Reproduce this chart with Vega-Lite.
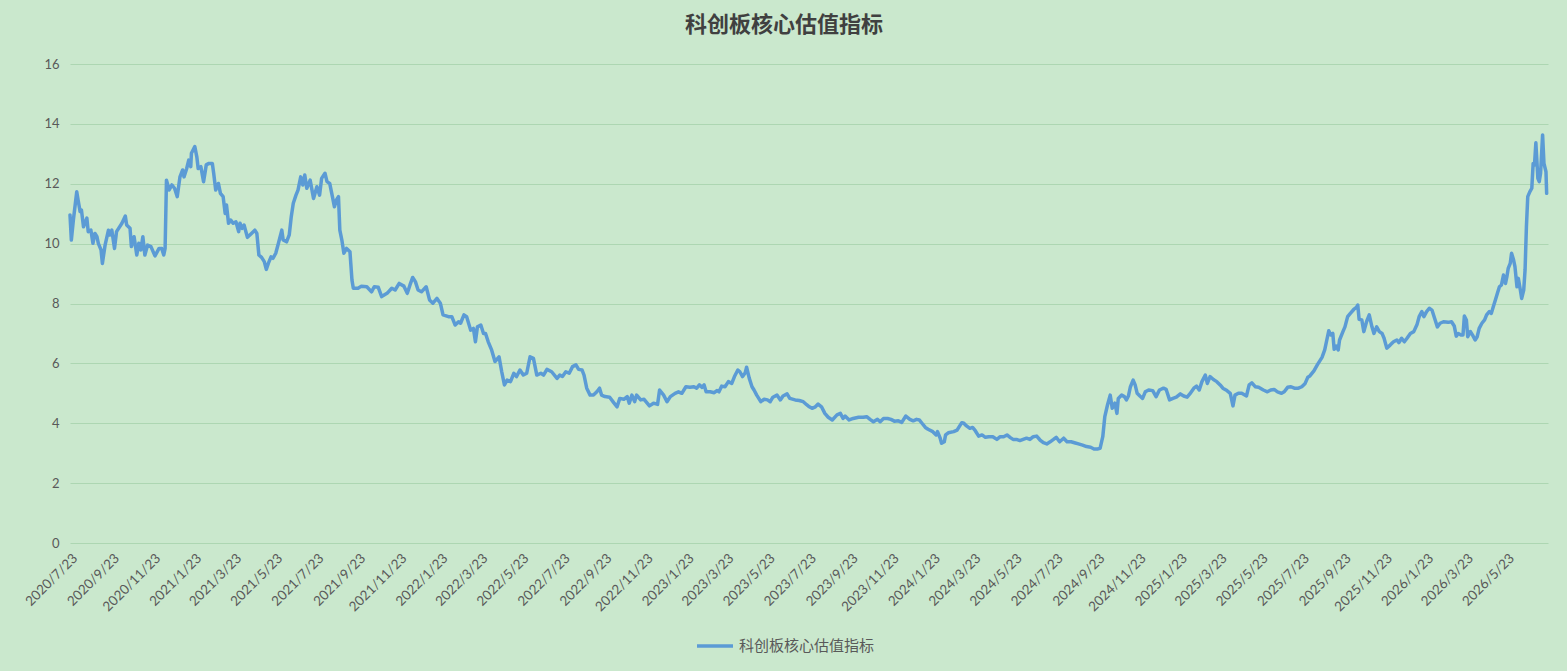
{
  "$schema": "https://vega.github.io/schema/vega-lite/v6.json",
  "autosize": "none",
  "width": 1478,
  "height": 479,
  "padding": {"left": 70, "top": 64, "right": 19, "bottom": 128},
  "background": "#CAE8CD",
  "title": {
    "text": "科创板核心估值指标",
    "font": "Noto Sans CJK SC",
    "fontSize": 22,
    "fontWeight": "bold",
    "color": "#404040",
    "anchor": "middle",
    "dx": -25,
    "offset": 21
  },
  "config": {
    "view": {"stroke": null},
    "axis": {
      "labelFont": "Lato",
      "labelColor": "#595959",
      "labelFontSize": 13,
      "domain": false,
      "ticks": false,
      "gridColor": "#ADD6B2",
      "gridWidth": 1
    }
  },
  "data": {
    "values": [
      {"date": "2020/7/23", "value": 10.96},
      {"date": "2020/7/25", "value": 10.12},
      {"date": "2020/7/28", "value": 10.79},
      {"date": "2020/8/2", "value": 11.73},
      {"date": "2020/8/4", "value": 11.46},
      {"date": "2020/8/7", "value": 11.07},
      {"date": "2020/8/9", "value": 11.12},
      {"date": "2020/8/12", "value": 10.56},
      {"date": "2020/8/17", "value": 10.85},
      {"date": "2020/8/19", "value": 10.40},
      {"date": "2020/8/23", "value": 10.45},
      {"date": "2020/8/26", "value": 10.01},
      {"date": "2020/8/29", "value": 10.34},
      {"date": "2020/9/1", "value": 10.23},
      {"date": "2020/9/3", "value": 10.01},
      {"date": "2020/9/7", "value": 9.79},
      {"date": "2020/9/9", "value": 9.34},
      {"date": "2020/9/13", "value": 9.95},
      {"date": "2020/9/18", "value": 10.45},
      {"date": "2020/9/20", "value": 10.29},
      {"date": "2020/9/23", "value": 10.45},
      {"date": "2020/9/27", "value": 9.84},
      {"date": "2020/9/30", "value": 10.40},
      {"date": "2020/10/8", "value": 10.68},
      {"date": "2020/10/13", "value": 10.92},
      {"date": "2020/10/15", "value": 10.62},
      {"date": "2020/10/20", "value": 10.51},
      {"date": "2020/10/22", "value": 9.90},
      {"date": "2020/10/26", "value": 10.23},
      {"date": "2020/10/30", "value": 9.62},
      {"date": "2020/11/2", "value": 10.01},
      {"date": "2020/11/5", "value": 9.79},
      {"date": "2020/11/8", "value": 10.23},
      {"date": "2020/11/11", "value": 9.62},
      {"date": "2020/11/15", "value": 9.95},
      {"date": "2020/11/20", "value": 9.90},
      {"date": "2020/11/26", "value": 9.59},
      {"date": "2020/12/2", "value": 9.84},
      {"date": "2020/12/6", "value": 9.84},
      {"date": "2020/12/9", "value": 9.62},
      {"date": "2020/12/11", "value": 9.84},
      {"date": "2020/12/13", "value": 12.12},
      {"date": "2020/12/17", "value": 11.79},
      {"date": "2020/12/21", "value": 11.96},
      {"date": "2020/12/25", "value": 11.85},
      {"date": "2020/12/29", "value": 11.57},
      {"date": "2021/1/2", "value": 12.23},
      {"date": "2021/1/6", "value": 12.46},
      {"date": "2021/1/8", "value": 12.23},
      {"date": "2021/1/12", "value": 12.51},
      {"date": "2021/1/15", "value": 12.79},
      {"date": "2021/1/18", "value": 12.57},
      {"date": "2021/1/19", "value": 13.02},
      {"date": "2021/1/24", "value": 13.24},
      {"date": "2021/1/27", "value": 12.90},
      {"date": "2021/1/29", "value": 12.51},
      {"date": "2021/2/2", "value": 12.57},
      {"date": "2021/2/6", "value": 12.07},
      {"date": "2021/2/10", "value": 12.63},
      {"date": "2021/2/14", "value": 12.68},
      {"date": "2021/2/19", "value": 12.68},
      {"date": "2021/2/21", "value": 12.35},
      {"date": "2021/2/24", "value": 11.79},
      {"date": "2021/2/28", "value": 12.01},
      {"date": "2021/3/3", "value": 11.68},
      {"date": "2021/3/7", "value": 11.57},
      {"date": "2021/3/10", "value": 11.01},
      {"date": "2021/3/12", "value": 11.29},
      {"date": "2021/3/15", "value": 10.68},
      {"date": "2021/3/18", "value": 10.79},
      {"date": "2021/3/22", "value": 10.68},
      {"date": "2021/3/26", "value": 10.73},
      {"date": "2021/3/30", "value": 10.40},
      {"date": "2021/4/1", "value": 10.68},
      {"date": "2021/4/4", "value": 10.51},
      {"date": "2021/4/7", "value": 10.62},
      {"date": "2021/4/12", "value": 10.21},
      {"date": "2021/4/18", "value": 10.34},
      {"date": "2021/4/23", "value": 10.45},
      {"date": "2021/4/26", "value": 10.34},
      {"date": "2021/4/29", "value": 9.62},
      {"date": "2021/5/3", "value": 9.54},
      {"date": "2021/5/7", "value": 9.40},
      {"date": "2021/5/10", "value": 9.14},
      {"date": "2021/5/13", "value": 9.34},
      {"date": "2021/5/17", "value": 9.56},
      {"date": "2021/5/20", "value": 9.51},
      {"date": "2021/5/24", "value": 9.68},
      {"date": "2021/5/28", "value": 10.01},
      {"date": "2021/6/2", "value": 10.45},
      {"date": "2021/6/4", "value": 10.12},
      {"date": "2021/6/9", "value": 10.06},
      {"date": "2021/6/13", "value": 10.29},
      {"date": "2021/6/16", "value": 10.90},
      {"date": "2021/6/19", "value": 11.35},
      {"date": "2021/6/23", "value": 11.62},
      {"date": "2021/6/26", "value": 11.79},
      {"date": "2021/6/30", "value": 12.23},
      {"date": "2021/7/3", "value": 11.96},
      {"date": "2021/7/6", "value": 12.29},
      {"date": "2021/7/9", "value": 11.85},
      {"date": "2021/7/14", "value": 12.12},
      {"date": "2021/7/19", "value": 11.51},
      {"date": "2021/7/24", "value": 11.90},
      {"date": "2021/7/28", "value": 11.62},
      {"date": "2021/7/31", "value": 12.18},
      {"date": "2021/8/5", "value": 12.35},
      {"date": "2021/8/8", "value": 12.07},
      {"date": "2021/8/12", "value": 12.01},
      {"date": "2021/8/16", "value": 11.57},
      {"date": "2021/8/19", "value": 11.23},
      {"date": "2021/8/22", "value": 11.46},
      {"date": "2021/8/25", "value": 11.57},
      {"date": "2021/8/27", "value": 10.45},
      {"date": "2021/8/30", "value": 10.12},
      {"date": "2021/9/2", "value": 9.68},
      {"date": "2021/9/6", "value": 9.84},
      {"date": "2021/9/11", "value": 9.73},
      {"date": "2021/9/14", "value": 8.78},
      {"date": "2021/9/16", "value": 8.51},
      {"date": "2021/9/23", "value": 8.51},
      {"date": "2021/9/28", "value": 8.58},
      {"date": "2021/10/6", "value": 8.56},
      {"date": "2021/10/13", "value": 8.39},
      {"date": "2021/10/17", "value": 8.56},
      {"date": "2021/10/23", "value": 8.54},
      {"date": "2021/10/28", "value": 8.23},
      {"date": "2021/11/5", "value": 8.34},
      {"date": "2021/11/12", "value": 8.51},
      {"date": "2021/11/17", "value": 8.45},
      {"date": "2021/11/23", "value": 8.67},
      {"date": "2021/11/30", "value": 8.58},
      {"date": "2021/12/5", "value": 8.34},
      {"date": "2021/12/9", "value": 8.62},
      {"date": "2021/12/13", "value": 8.87},
      {"date": "2021/12/17", "value": 8.73},
      {"date": "2021/12/21", "value": 8.45},
      {"date": "2021/12/26", "value": 8.39},
      {"date": "2022/1/2", "value": 8.56},
      {"date": "2022/1/7", "value": 8.12},
      {"date": "2022/1/12", "value": 8.01},
      {"date": "2022/1/18", "value": 8.17},
      {"date": "2022/1/23", "value": 8.01},
      {"date": "2022/1/27", "value": 7.62},
      {"date": "2022/2/4", "value": 7.56},
      {"date": "2022/2/9", "value": 7.56},
      {"date": "2022/2/14", "value": 7.28},
      {"date": "2022/2/19", "value": 7.39},
      {"date": "2022/2/22", "value": 7.34},
      {"date": "2022/2/27", "value": 7.62},
      {"date": "2022/3/3", "value": 7.56},
      {"date": "2022/3/9", "value": 7.11},
      {"date": "2022/3/13", "value": 7.17},
      {"date": "2022/3/16", "value": 6.72},
      {"date": "2022/3/19", "value": 7.22},
      {"date": "2022/3/24", "value": 7.28},
      {"date": "2022/3/28", "value": 7.00},
      {"date": "2022/3/31", "value": 7.00},
      {"date": "2022/4/4", "value": 6.72},
      {"date": "2022/4/9", "value": 6.45},
      {"date": "2022/4/14", "value": 6.06},
      {"date": "2022/4/20", "value": 6.22},
      {"date": "2022/4/24", "value": 5.72},
      {"date": "2022/4/28", "value": 5.28},
      {"date": "2022/5/2", "value": 5.44},
      {"date": "2022/5/7", "value": 5.39},
      {"date": "2022/5/12", "value": 5.67},
      {"date": "2022/5/16", "value": 5.56},
      {"date": "2022/5/21", "value": 5.78},
      {"date": "2022/5/26", "value": 5.61},
      {"date": "2022/5/31", "value": 5.67},
      {"date": "2022/6/5", "value": 6.22},
      {"date": "2022/6/10", "value": 6.17},
      {"date": "2022/6/15", "value": 5.61},
      {"date": "2022/6/21", "value": 5.67},
      {"date": "2022/6/25", "value": 5.61},
      {"date": "2022/6/30", "value": 5.80},
      {"date": "2022/7/7", "value": 5.72},
      {"date": "2022/7/15", "value": 5.50},
      {"date": "2022/7/19", "value": 5.61},
      {"date": "2022/7/23", "value": 5.56},
      {"date": "2022/7/28", "value": 5.72},
      {"date": "2022/8/2", "value": 5.67},
      {"date": "2022/8/7", "value": 5.89},
      {"date": "2022/8/12", "value": 5.95},
      {"date": "2022/8/16", "value": 5.80},
      {"date": "2022/8/21", "value": 5.78},
      {"date": "2022/8/24", "value": 5.61},
      {"date": "2022/8/28", "value": 5.17},
      {"date": "2022/9/2", "value": 4.94},
      {"date": "2022/9/7", "value": 4.94},
      {"date": "2022/9/12", "value": 5.05},
      {"date": "2022/9/16", "value": 5.17},
      {"date": "2022/9/19", "value": 4.94},
      {"date": "2022/9/24", "value": 4.89},
      {"date": "2022/10/1", "value": 4.87},
      {"date": "2022/10/7", "value": 4.69},
      {"date": "2022/10/12", "value": 4.55},
      {"date": "2022/10/16", "value": 4.83},
      {"date": "2022/10/22", "value": 4.80},
      {"date": "2022/10/27", "value": 4.89},
      {"date": "2022/10/30", "value": 4.67},
      {"date": "2022/11/3", "value": 4.94},
      {"date": "2022/11/7", "value": 4.72},
      {"date": "2022/11/10", "value": 4.94},
      {"date": "2022/11/16", "value": 4.78},
      {"date": "2022/11/21", "value": 4.80},
      {"date": "2022/11/29", "value": 4.58},
      {"date": "2022/12/5", "value": 4.67},
      {"date": "2022/12/11", "value": 4.63},
      {"date": "2022/12/14", "value": 5.11},
      {"date": "2022/12/20", "value": 4.94},
      {"date": "2022/12/25", "value": 4.72},
      {"date": "2022/12/30", "value": 4.89},
      {"date": "2023/1/6", "value": 5.00},
      {"date": "2023/1/11", "value": 5.05},
      {"date": "2023/1/16", "value": 5.00},
      {"date": "2023/1/22", "value": 5.22},
      {"date": "2023/1/28", "value": 5.20},
      {"date": "2023/2/3", "value": 5.22},
      {"date": "2023/2/7", "value": 5.17},
      {"date": "2023/2/11", "value": 5.28},
      {"date": "2023/2/15", "value": 5.20},
      {"date": "2023/2/18", "value": 5.28},
      {"date": "2023/2/21", "value": 5.05},
      {"date": "2023/2/27", "value": 5.05},
      {"date": "2023/3/5", "value": 5.02},
      {"date": "2023/3/9", "value": 5.09},
      {"date": "2023/3/12", "value": 5.05},
      {"date": "2023/3/16", "value": 5.24},
      {"date": "2023/3/21", "value": 5.22},
      {"date": "2023/3/26", "value": 5.39},
      {"date": "2023/3/31", "value": 5.33},
      {"date": "2023/4/4", "value": 5.56},
      {"date": "2023/4/9", "value": 5.78},
      {"date": "2023/4/12", "value": 5.72},
      {"date": "2023/4/16", "value": 5.56},
      {"date": "2023/4/20", "value": 5.69},
      {"date": "2023/4/22", "value": 5.87},
      {"date": "2023/4/26", "value": 5.50},
      {"date": "2023/4/30", "value": 5.22},
      {"date": "2023/5/3", "value": 5.11},
      {"date": "2023/5/7", "value": 4.94},
      {"date": "2023/5/13", "value": 4.72},
      {"date": "2023/5/18", "value": 4.80},
      {"date": "2023/5/23", "value": 4.78},
      {"date": "2023/5/27", "value": 4.72},
      {"date": "2023/5/31", "value": 4.87},
      {"date": "2023/6/6", "value": 4.94},
      {"date": "2023/6/11", "value": 4.78},
      {"date": "2023/6/15", "value": 4.91},
      {"date": "2023/6/21", "value": 4.98},
      {"date": "2023/6/25", "value": 4.83},
      {"date": "2023/7/3", "value": 4.78},
      {"date": "2023/7/9", "value": 4.76},
      {"date": "2023/7/15", "value": 4.72},
      {"date": "2023/7/20", "value": 4.62},
      {"date": "2023/7/24", "value": 4.55},
      {"date": "2023/7/28", "value": 4.50},
      {"date": "2023/8/2", "value": 4.55},
      {"date": "2023/8/6", "value": 4.64},
      {"date": "2023/8/11", "value": 4.55},
      {"date": "2023/8/16", "value": 4.33},
      {"date": "2023/8/21", "value": 4.20},
      {"date": "2023/8/27", "value": 4.11},
      {"date": "2023/9/3", "value": 4.28},
      {"date": "2023/9/8", "value": 4.33},
      {"date": "2023/9/12", "value": 4.16},
      {"date": "2023/9/15", "value": 4.24},
      {"date": "2023/9/21", "value": 4.11},
      {"date": "2023/9/27", "value": 4.16},
      {"date": "2023/10/5", "value": 4.20},
      {"date": "2023/10/12", "value": 4.20},
      {"date": "2023/10/17", "value": 4.22},
      {"date": "2023/10/22", "value": 4.13},
      {"date": "2023/10/27", "value": 4.05},
      {"date": "2023/11/2", "value": 4.13},
      {"date": "2023/11/6", "value": 4.05},
      {"date": "2023/11/11", "value": 4.16},
      {"date": "2023/11/17", "value": 4.16},
      {"date": "2023/11/22", "value": 4.13},
      {"date": "2023/11/27", "value": 4.07},
      {"date": "2023/12/3", "value": 4.08},
      {"date": "2023/12/8", "value": 4.03},
      {"date": "2023/12/14", "value": 4.24},
      {"date": "2023/12/20", "value": 4.13},
      {"date": "2023/12/25", "value": 4.08},
      {"date": "2023/12/30", "value": 4.13},
      {"date": "2024/1/3", "value": 4.11},
      {"date": "2024/1/7", "value": 4.00},
      {"date": "2024/1/12", "value": 3.86},
      {"date": "2024/1/16", "value": 3.80},
      {"date": "2024/1/23", "value": 3.72},
      {"date": "2024/1/28", "value": 3.61},
      {"date": "2024/1/30", "value": 3.72},
      {"date": "2024/2/3", "value": 3.50},
      {"date": "2024/2/5", "value": 3.33},
      {"date": "2024/2/9", "value": 3.38},
      {"date": "2024/2/11", "value": 3.61},
      {"date": "2024/2/15", "value": 3.68},
      {"date": "2024/2/23", "value": 3.72},
      {"date": "2024/2/28", "value": 3.77},
      {"date": "2024/3/2", "value": 3.88},
      {"date": "2024/3/6", "value": 4.02},
      {"date": "2024/3/9", "value": 4.00},
      {"date": "2024/3/13", "value": 3.91},
      {"date": "2024/3/18", "value": 3.83},
      {"date": "2024/3/22", "value": 3.86},
      {"date": "2024/3/26", "value": 3.75},
      {"date": "2024/3/31", "value": 3.57},
      {"date": "2024/4/5", "value": 3.61},
      {"date": "2024/4/10", "value": 3.53},
      {"date": "2024/4/15", "value": 3.55},
      {"date": "2024/4/21", "value": 3.55},
      {"date": "2024/4/27", "value": 3.46},
      {"date": "2024/5/2", "value": 3.55},
      {"date": "2024/5/7", "value": 3.55},
      {"date": "2024/5/12", "value": 3.61},
      {"date": "2024/5/17", "value": 3.52},
      {"date": "2024/5/21", "value": 3.46},
      {"date": "2024/5/26", "value": 3.46},
      {"date": "2024/5/31", "value": 3.42},
      {"date": "2024/6/5", "value": 3.46},
      {"date": "2024/6/10", "value": 3.50},
      {"date": "2024/6/15", "value": 3.46},
      {"date": "2024/6/20", "value": 3.55},
      {"date": "2024/6/25", "value": 3.57},
      {"date": "2024/6/30", "value": 3.44},
      {"date": "2024/7/5", "value": 3.35},
      {"date": "2024/7/10", "value": 3.31},
      {"date": "2024/7/15", "value": 3.38},
      {"date": "2024/7/20", "value": 3.46},
      {"date": "2024/7/24", "value": 3.53},
      {"date": "2024/7/29", "value": 3.38},
      {"date": "2024/8/4", "value": 3.50},
      {"date": "2024/8/9", "value": 3.38},
      {"date": "2024/8/15", "value": 3.38},
      {"date": "2024/8/20", "value": 3.35},
      {"date": "2024/8/26", "value": 3.31},
      {"date": "2024/9/1", "value": 3.27},
      {"date": "2024/9/7", "value": 3.22},
      {"date": "2024/9/13", "value": 3.20},
      {"date": "2024/9/18", "value": 3.14},
      {"date": "2024/9/23", "value": 3.14},
      {"date": "2024/9/27", "value": 3.16},
      {"date": "2024/10/1", "value": 3.55},
      {"date": "2024/10/4", "value": 4.22},
      {"date": "2024/10/8", "value": 4.61},
      {"date": "2024/10/12", "value": 4.94},
      {"date": "2024/10/15", "value": 4.50},
      {"date": "2024/10/19", "value": 4.67},
      {"date": "2024/10/22", "value": 4.33},
      {"date": "2024/10/24", "value": 4.83},
      {"date": "2024/10/29", "value": 4.94},
      {"date": "2024/11/2", "value": 4.89},
      {"date": "2024/11/5", "value": 4.78},
      {"date": "2024/11/8", "value": 4.91},
      {"date": "2024/11/11", "value": 5.22},
      {"date": "2024/11/15", "value": 5.44},
      {"date": "2024/11/18", "value": 5.28},
      {"date": "2024/11/21", "value": 5.00},
      {"date": "2024/11/25", "value": 4.91},
      {"date": "2024/11/29", "value": 4.83},
      {"date": "2024/12/3", "value": 5.05},
      {"date": "2024/12/8", "value": 5.11},
      {"date": "2024/12/14", "value": 5.09},
      {"date": "2024/12/19", "value": 4.89},
      {"date": "2024/12/24", "value": 5.11},
      {"date": "2024/12/30", "value": 5.17},
      {"date": "2025/1/3", "value": 5.13},
      {"date": "2025/1/8", "value": 4.78},
      {"date": "2025/1/13", "value": 4.83},
      {"date": "2025/1/18", "value": 4.87},
      {"date": "2025/1/24", "value": 4.98},
      {"date": "2025/1/29", "value": 4.91},
      {"date": "2025/2/3", "value": 4.87},
      {"date": "2025/2/7", "value": 4.98},
      {"date": "2025/2/13", "value": 5.17},
      {"date": "2025/2/17", "value": 5.24},
      {"date": "2025/2/21", "value": 5.11},
      {"date": "2025/2/25", "value": 5.39},
      {"date": "2025/3/2", "value": 5.61},
      {"date": "2025/3/5", "value": 5.33},
      {"date": "2025/3/9", "value": 5.56},
      {"date": "2025/3/14", "value": 5.46},
      {"date": "2025/3/19", "value": 5.39},
      {"date": "2025/3/24", "value": 5.28},
      {"date": "2025/3/28", "value": 5.17},
      {"date": "2025/4/3", "value": 5.09},
      {"date": "2025/4/8", "value": 5.00},
      {"date": "2025/4/12", "value": 4.58},
      {"date": "2025/4/15", "value": 4.94},
      {"date": "2025/4/20", "value": 5.00},
      {"date": "2025/4/25", "value": 5.00},
      {"date": "2025/5/2", "value": 4.91},
      {"date": "2025/5/6", "value": 5.28},
      {"date": "2025/5/10", "value": 5.35},
      {"date": "2025/5/15", "value": 5.22},
      {"date": "2025/5/20", "value": 5.20},
      {"date": "2025/5/27", "value": 5.11},
      {"date": "2025/6/2", "value": 5.05},
      {"date": "2025/6/7", "value": 5.11},
      {"date": "2025/6/12", "value": 5.13},
      {"date": "2025/6/17", "value": 5.05},
      {"date": "2025/6/23", "value": 5.00},
      {"date": "2025/6/27", "value": 5.05},
      {"date": "2025/7/2", "value": 5.20},
      {"date": "2025/7/7", "value": 5.22},
      {"date": "2025/7/12", "value": 5.17},
      {"date": "2025/7/18", "value": 5.17},
      {"date": "2025/7/23", "value": 5.22},
      {"date": "2025/7/28", "value": 5.33},
      {"date": "2025/8/1", "value": 5.54},
      {"date": "2025/8/4", "value": 5.58},
      {"date": "2025/8/10", "value": 5.75},
      {"date": "2025/8/15", "value": 5.95},
      {"date": "2025/8/22", "value": 6.20},
      {"date": "2025/8/26", "value": 6.45},
      {"date": "2025/9/1", "value": 7.09},
      {"date": "2025/9/4", "value": 6.95},
      {"date": "2025/9/7", "value": 7.00},
      {"date": "2025/9/9", "value": 6.47},
      {"date": "2025/9/12", "value": 6.58},
      {"date": "2025/9/15", "value": 6.45},
      {"date": "2025/9/17", "value": 6.78},
      {"date": "2025/9/22", "value": 7.06},
      {"date": "2025/9/25", "value": 7.22},
      {"date": "2025/9/29", "value": 7.56},
      {"date": "2025/10/3", "value": 7.67},
      {"date": "2025/10/8", "value": 7.80},
      {"date": "2025/10/12", "value": 7.87},
      {"date": "2025/10/14", "value": 7.95},
      {"date": "2025/10/16", "value": 7.47},
      {"date": "2025/10/20", "value": 7.45},
      {"date": "2025/10/23", "value": 7.06},
      {"date": "2025/10/27", "value": 7.39},
      {"date": "2025/10/31", "value": 7.62},
      {"date": "2025/11/4", "value": 7.22},
      {"date": "2025/11/7", "value": 7.00},
      {"date": "2025/11/11", "value": 7.22},
      {"date": "2025/11/15", "value": 7.06},
      {"date": "2025/11/19", "value": 7.00},
      {"date": "2025/11/22", "value": 6.84},
      {"date": "2025/11/26", "value": 6.51},
      {"date": "2025/12/1", "value": 6.61},
      {"date": "2025/12/6", "value": 6.72},
      {"date": "2025/12/11", "value": 6.78},
      {"date": "2025/12/14", "value": 6.69},
      {"date": "2025/12/18", "value": 6.84},
      {"date": "2025/12/22", "value": 6.72},
      {"date": "2025/12/26", "value": 6.84},
      {"date": "2025/12/31", "value": 7.00},
      {"date": "2026/1/5", "value": 7.06},
      {"date": "2026/1/10", "value": 7.31},
      {"date": "2026/1/13", "value": 7.56},
      {"date": "2026/1/17", "value": 7.73},
      {"date": "2026/1/20", "value": 7.56},
      {"date": "2026/1/24", "value": 7.73},
      {"date": "2026/1/28", "value": 7.84},
      {"date": "2026/2/1", "value": 7.78},
      {"date": "2026/2/5", "value": 7.50},
      {"date": "2026/2/9", "value": 7.22},
      {"date": "2026/2/13", "value": 7.34},
      {"date": "2026/2/18", "value": 7.39},
      {"date": "2026/2/25", "value": 7.37},
      {"date": "2026/3/2", "value": 7.39},
      {"date": "2026/3/6", "value": 7.25},
      {"date": "2026/3/9", "value": 6.91},
      {"date": "2026/3/12", "value": 7.00},
      {"date": "2026/3/16", "value": 6.95},
      {"date": "2026/3/19", "value": 6.95},
      {"date": "2026/3/21", "value": 7.58},
      {"date": "2026/3/24", "value": 7.45},
      {"date": "2026/3/26", "value": 6.89},
      {"date": "2026/3/30", "value": 7.06},
      {"date": "2026/4/2", "value": 6.95},
      {"date": "2026/4/6", "value": 6.78},
      {"date": "2026/4/9", "value": 6.89},
      {"date": "2026/4/12", "value": 7.17},
      {"date": "2026/4/16", "value": 7.34},
      {"date": "2026/4/20", "value": 7.45},
      {"date": "2026/4/23", "value": 7.62},
      {"date": "2026/4/27", "value": 7.73},
      {"date": "2026/4/30", "value": 7.67},
      {"date": "2026/5/3", "value": 7.90},
      {"date": "2026/5/6", "value": 8.12},
      {"date": "2026/5/9", "value": 8.34},
      {"date": "2026/5/12", "value": 8.56},
      {"date": "2026/5/15", "value": 8.62},
      {"date": "2026/5/18", "value": 8.95},
      {"date": "2026/5/21", "value": 8.67},
      {"date": "2026/5/23", "value": 8.89},
      {"date": "2026/5/25", "value": 9.17},
      {"date": "2026/5/28", "value": 9.34},
      {"date": "2026/5/30", "value": 9.68},
      {"date": "2026/6/2", "value": 9.45},
      {"date": "2026/6/4", "value": 9.23},
      {"date": "2026/6/7", "value": 8.56},
      {"date": "2026/6/9", "value": 8.84},
      {"date": "2026/6/12", "value": 8.45},
      {"date": "2026/6/14", "value": 8.17},
      {"date": "2026/6/17", "value": 8.45},
      {"date": "2026/6/19", "value": 9.12},
      {"date": "2026/6/21", "value": 10.56},
      {"date": "2026/6/23", "value": 11.57},
      {"date": "2026/6/26", "value": 11.73},
      {"date": "2026/6/29", "value": 11.85},
      {"date": "2026/7/1", "value": 12.68},
      {"date": "2026/7/3", "value": 12.63},
      {"date": "2026/7/5", "value": 13.37},
      {"date": "2026/7/8", "value": 12.18},
      {"date": "2026/7/10", "value": 12.07},
      {"date": "2026/7/12", "value": 12.35},
      {"date": "2026/7/15", "value": 13.63},
      {"date": "2026/7/17", "value": 12.68},
      {"date": "2026/7/20", "value": 12.40},
      {"date": "2026/7/21", "value": 11.68}
    ]
  },
  "mark": {"type": "line", "strokeWidth": 3.5, "strokeJoin": "round", "strokeCap": "round"},
  "encoding": {
    "x": {
      "field": "date",
      "type": "temporal",
      "title": null,
      "scale": {"domain": [{"year": 2020, "month": 7, "date": 23}, {"year": 2026, "month": 7, "date": 23}]},
      "axis": {
        "grid": false,
        "format": "%Y/%-m/%-d",
        "labelAngle": -45,
        "labelPadding": 8,
        "labelFontSize": 13.5,
        "labelOverlap": false,
        "values": [
          {"year": 2020, "month": 7, "date": 23}, {"year": 2020, "month": 9, "date": 23}, {"year": 2020, "month": 11, "date": 23},
          {"year": 2021, "month": 1, "date": 23}, {"year": 2021, "month": 3, "date": 23}, {"year": 2021, "month": 5, "date": 23},
          {"year": 2021, "month": 7, "date": 23}, {"year": 2021, "month": 9, "date": 23}, {"year": 2021, "month": 11, "date": 23},
          {"year": 2022, "month": 1, "date": 23}, {"year": 2022, "month": 3, "date": 23}, {"year": 2022, "month": 5, "date": 23},
          {"year": 2022, "month": 7, "date": 23}, {"year": 2022, "month": 9, "date": 23}, {"year": 2022, "month": 11, "date": 23},
          {"year": 2023, "month": 1, "date": 23}, {"year": 2023, "month": 3, "date": 23}, {"year": 2023, "month": 5, "date": 23},
          {"year": 2023, "month": 7, "date": 23}, {"year": 2023, "month": 9, "date": 23}, {"year": 2023, "month": 11, "date": 23},
          {"year": 2024, "month": 1, "date": 23}, {"year": 2024, "month": 3, "date": 23}, {"year": 2024, "month": 5, "date": 23},
          {"year": 2024, "month": 7, "date": 23}, {"year": 2024, "month": 9, "date": 23}, {"year": 2024, "month": 11, "date": 23},
          {"year": 2025, "month": 1, "date": 23}, {"year": 2025, "month": 3, "date": 23}, {"year": 2025, "month": 5, "date": 23},
          {"year": 2025, "month": 7, "date": 23}, {"year": 2025, "month": 9, "date": 23}, {"year": 2025, "month": 11, "date": 23},
          {"year": 2026, "month": 1, "date": 23}, {"year": 2026, "month": 3, "date": 23}, {"year": 2026, "month": 5, "date": 23}
        ]
      }
    },
    "y": {
      "field": "value",
      "type": "quantitative",
      "title": null,
      "scale": {"domain": [0, 16], "nice": false},
      "axis": {"values": [0, 2, 4, 6, 8, 10, 12, 14, 16], "labelPadding": 11}
    },
    "color": {
      "datum": "科创板核心估值指标",
      "type": "nominal",
      "scale": {"range": ["#5B9BD5"]},
      "legend": {
        "title": null,
        "orient": "none",
        "legendX": 625,
        "legendY": 562,
        "padding": 0,
        "symbolType": "stroke",
        "symbolSize": 1296,
        "symbolStrokeWidth": 3.5,
        "labelFont": "Noto Sans CJK SC",
        "labelFontSize": 15,
        "labelColor": "#595959",
        "labelOffset": 4
      }
    }
  }
}
